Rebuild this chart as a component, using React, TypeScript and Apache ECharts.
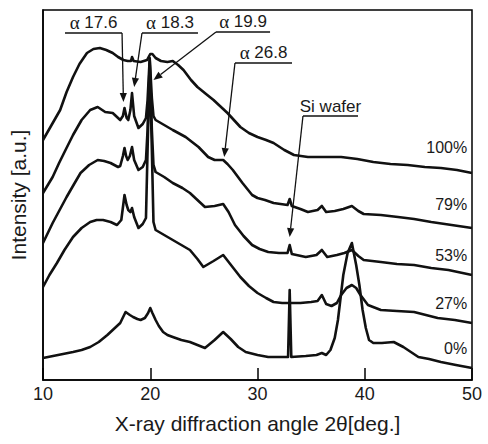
import React, { useEffect, useRef } from "react";
import * as echarts from "echarts";

const FONT = '"Liberation Sans", Arial, Helvetica, sans-serif';
const INK = "#111";
const TEXT = "#1a1a1a";

// XRD patterns, stacked with vertical offsets: [2θ (deg), intensity (a.u.)]
const pattern100: [number, number][] = [
  [10.0, 240], [10.8, 255], [11.6, 270], [12.2, 288], [12.8, 303], [13.4, 316], [14.1, 327],
  [14.7, 331], [15.3, 332], [15.9, 330], [16.5, 327], [17.0, 323], [17.5, 320], [17.9, 319],
  [18.2, 319], [18.3, 323], [18.45, 319], [19.1, 318], [19.7, 320], [20.0, 326], [20.2, 326],
  [20.5, 322], [21.0, 319], [21.6, 318], [22.1, 319], [22.6, 315], [23.1, 310], [23.8, 300],
  [24.4, 293], [25.2, 286], [25.9, 280], [26.6, 273], [27.2, 267], [27.8, 260], [28.4, 253],
  [29.2, 247], [30.0, 243], [30.8, 240], [31.5, 237], [32.5, 230], [33.4, 225], [34.7, 223],
  [36.3, 223], [37.8, 223], [39.3, 221], [40.8, 218], [42.4, 216], [44.0, 215], [45.6, 213],
  [47.1, 212], [48.6, 210], [50.0, 207],
];

const pattern79: [number, number][] = [
  [10.0, 187], [10.9, 203], [11.5, 217], [12.1, 230], [12.8, 245], [13.6, 260], [14.4, 270],
  [15.1, 273], [15.8, 268], [16.5, 267], [17.2, 260], [17.45, 264], [17.6, 272], [17.8, 262],
  [17.95, 260], [18.15, 270], [18.3, 287], [18.5, 264], [18.9, 252], [19.3, 256], [19.6, 262],
  [19.75, 280], [19.95, 322], [20.15, 282], [20.3, 264], [20.5, 260], [21.3, 255], [22.1, 250],
  [23.3, 243], [24.5, 233], [25.4, 223], [26.0, 220], [26.4, 220], [26.8, 220], [27.2, 216],
  [27.7, 210], [28.6, 197], [29.5, 185], [30.0, 182], [30.7, 180], [31.5, 177], [32.8, 175],
  [33.0, 181], [33.2, 174], [34.0, 171], [34.7, 168], [35.6, 170], [36.0, 174], [36.4, 168],
  [37.2, 169], [38.0, 171], [38.8, 174], [39.4, 169], [39.9, 166], [41.5, 165], [43.1, 163],
  [44.6, 161], [46.2, 158], [48.1, 155], [50.0, 152],
];

const pattern53: [number, number][] = [
  [10.0, 137], [10.9, 157], [11.6, 171], [12.2, 183], [12.9, 196], [13.5, 207], [14.3, 215],
  [15.1, 220], [15.7, 219], [16.3, 217], [17.0, 213], [17.2, 214], [17.45, 224], [17.6, 232],
  [17.75, 224], [17.9, 220], [18.1, 224], [18.3, 233], [18.5, 220], [18.9, 210], [19.3, 213],
  [19.6, 220], [19.75, 250], [19.95, 320], [20.15, 250], [20.3, 215], [20.5, 208], [21.3, 203],
  [22.1, 197], [23.0, 192], [23.7, 187], [24.4, 180], [25.1, 173], [26.0, 174], [26.8, 176],
  [27.3, 168], [27.9, 155], [28.7, 144], [29.5, 135], [30.2, 131], [31.0, 128], [32.0, 127],
  [32.8, 127], [33.0, 135], [33.2, 126], [34.5, 123], [35.5, 125], [36.0, 130], [36.5, 123],
  [37.4, 125], [38.1, 127], [38.8, 130], [39.4, 124], [39.9, 120], [41.5, 118], [43.0, 116],
  [44.6, 115], [46.2, 112], [47.8, 110], [50.0, 105],
];

const pattern27: [number, number][] = [
  [10.0, 93], [10.6, 105], [11.3, 117], [12.0, 130], [12.8, 143], [13.6, 152], [14.4, 158],
  [15.0, 160], [15.6, 160], [16.3, 158], [16.9, 155], [17.3, 160], [17.6, 185], [17.8, 175],
  [17.95, 170], [18.15, 168], [18.3, 172], [18.5, 163], [18.9, 152], [19.3, 156], [19.6, 162],
  [19.75, 230], [19.95, 316], [20.15, 230], [20.3, 158], [20.5, 150], [21.3, 145], [22.1, 140],
  [22.9, 135], [23.7, 130], [24.4, 121], [24.95, 113], [25.9, 119], [26.8, 125], [27.6, 114],
  [28.4, 103], [29.2, 94], [30.0, 87], [30.8, 82], [31.5, 78], [32.3, 77], [33.0, 77],
  [34.0, 77], [35.0, 78], [35.6, 79], [36.0, 85], [36.4, 76], [36.9, 74], [37.4, 77],
  [37.8, 85], [38.3, 92], [38.8, 95], [39.2, 92], [39.6, 85], [40.3, 75], [41.5, 70],
  [43.0, 69], [44.6, 68], [45.7, 65], [46.8, 62], [48.4, 60], [50.0, 57],
];

const pattern0: [number, number][] = [
  [10.0, 22], [11.4, 25], [12.8, 28], [13.6, 30], [14.4, 33], [15.2, 38], [16.0, 45],
  [16.6, 51], [17.2, 57], [17.7, 68], [18.1, 65], [18.4, 63], [18.8, 61], [19.1, 60],
  [19.5, 62], [19.8, 67], [20.0, 72], [20.2, 67], [20.5, 60], [20.8, 54], [21.2, 48],
  [21.6, 45], [22.1, 43], [22.9, 40], [23.7, 38], [24.4, 35], [25.1, 32], [26.0, 40],
  [26.8, 48], [27.5, 41], [28.2, 33], [28.9, 28], [30.0, 25], [31.0, 23], [32.0, 23],
  [32.85, 23], [33.0, 90], [33.15, 23], [34.5, 24], [35.5, 25], [36.0, 27], [36.4, 25],
  [36.8, 30], [37.2, 42], [37.5, 60], [38.0, 105], [38.4, 127], [38.8, 137], [39.2, 115],
  [39.5, 95], [39.8, 70], [40.1, 52], [40.4, 40], [40.8, 37], [41.6, 37], [42.7, 38],
  [43.6, 33], [44.3, 28], [45.0, 23], [46.0, 21], [47.1, 18], [48.5, 15], [50.0, 12],
];

const sampleLabels = ["100%", "79%", "53%", "27%", "0%"];
const sampleLabelAt: [number, number][] = [
  [49.55, 233], [49.55, 176], [49.55, 125], [49.55, 77], [49.55, 32],
];

// Peak callouts: caption, arrow tip, underline (from 2θ, to 2θ, level), leader start
const calloutText = ["{g|α} 17.6", "{g|α} 18.3", "{g|α} 19.9", "{g|α} 26.8", "Si wafer"];
const calloutTip: [number, number][] = [
  [17.5, 278], [18.5, 293], [20.3, 300], [26.9, 223], [33.0, 143],
];
const calloutBar: [number, number, number][] = [
  [12.05, 17.37, 347], [19.23, 24.45, 347], [26.13, 31.17, 348], [27.9, 33.22, 317], [34.24, 39.37, 264],
];
const calloutFromEnd = [true, false, false, false, false];

function lineSeries(data: [number, number][]) {
  return {
    type: "line",
    data,
    showSymbol: false,
    silent: true,
    z: 2,
    lineStyle: { color: INK, width: 2.6, join: "round" },
  };
}

export default function App() {
  const ref = useRef<HTMLDivElement>(null);

  useEffect(() => {
    if (!ref.current) return;
    const chart = echarts.init(ref.current, null, { renderer: "svg" });
    chart.setOption({
      animation: false,
      backgroundColor: "#fff",
      grid: {
        left: 43,
        top: 10,
        width: 429,
        height: 370,
        show: true,
        borderColor: "#000",
        borderWidth: 1.5,
      },
      xAxis: {
        type: "value",
        min: 10,
        max: 50,
        interval: 10,
        name: "X-ray diffraction angle 2θ[deg.]",
        nameLocation: "middle",
        nameGap: 33,
        nameTextStyle: { fontFamily: FONT, fontSize: 21, color: TEXT },
        axisLine: { show: true, lineStyle: { color: "#000", width: 1.5 } },
        axisTick: { show: true, inside: true, length: 12, lineStyle: { color: "#000", width: 1.5 } },
        axisLabel: { fontFamily: FONT, fontSize: 18, color: TEXT, margin: 5 },
        splitLine: { show: false },
      },
      yAxis: {
        type: "value",
        min: 0,
        max: 370,
        name: "Intensity [a.u.]",
        nameLocation: "middle",
        nameGap: 14,
        nameRotate: 90,
        nameTextStyle: { fontFamily: FONT, fontSize: 21, color: TEXT },
        axisLine: { show: true, lineStyle: { color: "#000", width: 1.5 } },
        axisTick: { show: false },
        axisLabel: { show: false },
        splitLine: { show: false },
      },
      series: [
        lineSeries(pattern100),
        lineSeries(pattern79),
        lineSeries(pattern53),
        lineSeries(pattern27),
        lineSeries(pattern0),
        {
          type: "custom",
          coordinateSystem: "cartesian2d",
          silent: true,
          clip: false,
          z: 5,
          data: sampleLabelAt,
          renderItem: (params: any, api: any) => {
            const i = params.dataIndex;
            const p = api.coord(sampleLabelAt[i]);
            return {
              type: "text",
              x: p[0],
              y: p[1],
              style: {
                fontFamily: FONT,
                fontSize: 16,
                fill: TEXT,
                text: sampleLabels[i],
                align: "right",
                verticalAlign: "middle",
              },
            };
          },
        },
        {
          type: "custom",
          coordinateSystem: "cartesian2d",
          silent: true,
          clip: false,
          z: 6,
          data: calloutTip,
          renderItem: (params: any, api: any) => {
            const i = params.dataIndex;
            const tip = api.coord(calloutTip[i]);
            const [x0, x1, lv] = calloutBar[i];
            const a = api.coord([x0, lv]);
            const b = api.coord([x1, lv]);
            const from = calloutFromEnd[i] ? b : a;
            const dx = tip[0] - from[0];
            const dy = tip[1] - from[1];
            const len = Math.hypot(dx, dy) || 1;
            const ux = dx / len;
            const uy = dy / len;
            const headLen = 9;
            const headW = 3.6;
            const base = [tip[0] - ux * headLen, tip[1] - uy * headLen];
            const nx = -uy;
            const ny = ux;
            return {
              type: "group",
              children: [
                {
                  type: "line",
                  shape: { x1: a[0], y1: a[1], x2: b[0], y2: b[1] },
                  style: { stroke: INK, lineWidth: 1.3 },
                },
                {
                  type: "line",
                  shape: { x1: from[0], y1: from[1], x2: base[0], y2: base[1] },
                  style: { stroke: INK, lineWidth: 1.3 },
                },
                {
                  type: "polygon",
                  shape: {
                    points: [
                      [tip[0], tip[1]],
                      [base[0] + nx * headW, base[1] + ny * headW],
                      [base[0] - nx * headW, base[1] - ny * headW],
                    ],
                  },
                  style: { fill: INK },
                },
                {
                  type: "text",
                  x: (a[0] + b[0]) / 2,
                  y: a[1] - 1,
                  style: {
                    fontFamily: FONT,
                    fontSize: 17,
                    fill: TEXT,
                    text: calloutText[i],
                    align: "center",
                    verticalAlign: "bottom",
                    rich: {
                      g: { fontFamily: '"Liberation Serif", "Times New Roman", serif', fontSize: 19, fill: TEXT },
                    },
                  },
                },
              ],
            };
          },
        },
      ],
    });
    return () => chart.dispose();
  }, []);

  return (
    <div
      ref={ref}
      style={{ position: "fixed", left: 0, top: 0, width: 488, height: 444, background: "#fff" }}
    />
  );
}
